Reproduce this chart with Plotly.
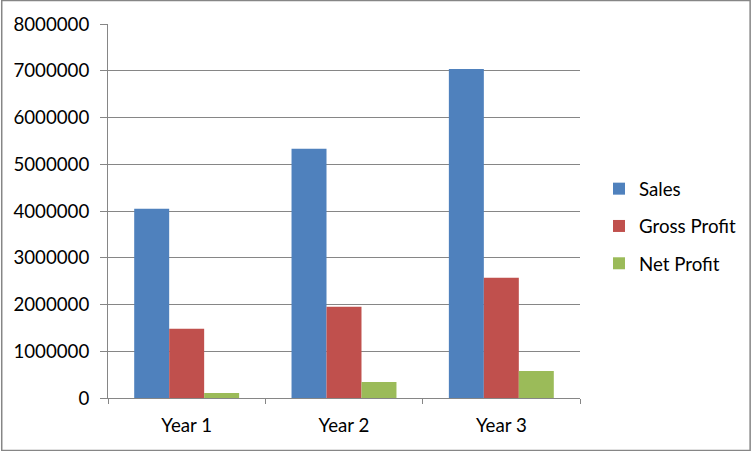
import plotly.graph_objects as go

categories = ["Year 1", "Year 2", "Year 3"]
sales = [4050000, 5330000, 7040000]
gross_profit = [1480000, 1950000, 2570000]
net_profit = [107000, 343000, 578000]
y_ticks = [0, 1000000, 2000000, 3000000, 4000000, 5000000, 6000000, 7000000, 8000000]

W, H = 753, 451
L, R, T, B = 108, 172, 24, 53
grey = "#868686"
font = dict(family="Lato, 'Open Sans', sans-serif", size=18.7, color="#000000")

fig = go.Figure()
for name, vals, col in [("Sales", sales, "#4F81BD"),
                        ("Gross Profit", gross_profit, "#C0504D"),
                        ("Net Profit", net_profit, "#9BBB59")]:
    fig.add_trace(go.Bar(x=categories, y=vals, name=name, marker=dict(color=col, line=dict(width=0)),
                         legendgroup=name))

pw, ph = W - L - R, H - T - B
def px_x(p):
    return (p - L) / pw
def px_y(p):
    return (H - B - p) / ph

fig.update_layout(
    width=W, height=H,
    margin=dict(l=L, r=R, t=T, b=B),
    paper_bgcolor="white", plot_bgcolor="white",
    font=font,
    barmode="group", bargap=0.333, bargroupgap=0,
    showlegend=True,
    legend=dict(x=px_x(599), xanchor="left", y=px_y(226), yanchor="middle",
                traceorder="grouped", tracegroupgap=10, font=font,
                bgcolor="rgba(0,0,0,0)"),
    xaxis=dict(showline=True, linecolor=grey, linewidth=1, ticks="outside", tickson="boundaries",
               ticklen=5, tickcolor=grey, showgrid=False, ticklabelstandoff=11, fixedrange=True),
    yaxis=dict(range=[0, 8000000], tickvals=y_ticks, ticktext=[str(v) for v in y_ticks],
               showline=True, linecolor=grey, linewidth=1, ticks="outside", ticklen=7,
               tickcolor=grey, showgrid=True, gridcolor=grey, gridwidth=1,
               ticklabelstandoff=7, zeroline=False),
    shapes=[dict(type="rect", xref="paper", yref="paper",
                 x0=px_x(1.5), x1=px_x(751.5), y0=px_y(450.5), y1=px_y(0.5),
                 line=dict(color=grey, width=1.5), fillcolor="rgba(0,0,0,0)", layer="below")],
)

fig.write_html("out.html", config={"displayModeBar": False},
               post_script="document.body.style.margin='0';document.body.style.overflow='hidden';")
